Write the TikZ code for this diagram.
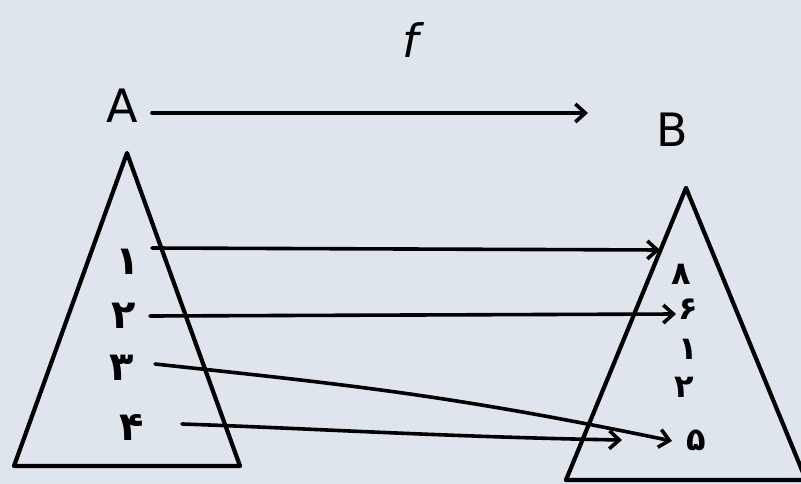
\documentclass[tikz,border=0pt]{standalone}
\usepackage{fontspec}
\setmainfont{DejaVu Sans}
\newfontfamily\arabicfont[Script=Arabic]{DejaVu Sans}
\usetikzlibrary{arrows.meta}
\definecolor{bg}{RGB}{223,229,236}
\tikzset{
  ink/.style={line width=4.2pt, line cap=round, line join=round, black},
  arr/.style={ink, line width=3.6pt, -{Straight Barb[length=10pt,width=18pt,line width=3.6pt]}},
  dig/.style={font=\arabicfont\bfseries\fontsize{40}{40}\selectfont, inner sep=0pt},
  rdig/.style={font=\arabicfont\bfseries\fontsize{32}{32}\selectfont, inner sep=0pt},
  big/.style={font=\fontsize{46}{46}\selectfont, inner sep=0pt}
}
\begin{document}
\begin{tikzpicture}[x=1pt,y=-1pt]
\fill[bg] (0,0) rectangle (801,484);
\useasboundingbox (0,0) rectangle (801,484);
% triangles
\draw[ink] (127,153) -- (240,466) -- (14,466) -- cycle;
\draw[ink] (686,188) -- (806,480) -- (566,480);
\draw[ink] (686,188) -- (566,480);
% labels
\node[big, font=\itshape\fontsize{46}{46}\selectfont] (f) at (411,40) {f};
\node[big] (A) at (122,106) {A};
\node[big] (B) at (672,130) {B};
\node[dig] (l1) at (128,262) {۱};
\node[dig] (l2) at (124,316) {۲};
\node[dig] (l3) at (122,368) {۳};
\node[dig] (l4) at (132,427) {۴};
\node[rdig] (r1) at (681,274) {۸};
\node[rdig] (r2) at (688,309) {۶};
\node[rdig] (r3) at (688,349) {۱};
\node[rdig] (r4) at (684,387) {۲};
\node[rdig] (r5) at (696,440) {۵};
% coordinates for arrow ends
\coordinate (s0) at (152,113);
\coordinate (e0) at (588,113);
\coordinate (s1) at (152,248);
\coordinate (e1) at (660,250);
\coordinate (s2) at (150,316);
\coordinate (e2) at (676,314);
\coordinate (s3) at (155,364);
\coordinate (e3) at (672,441);
\coordinate (s4) at (182,424);
\coordinate (e4) at (622,440);
% arrows
\draw[arr] (s0) -- (e0);
\draw[arr] (s1) -- (e1);
\draw[arr] (s2) -- (e2);
\draw[arr] (s3) .. controls (350,385) and (450,395) .. (e3);
\draw[arr] (s4) .. controls (300,428) and (450,437) .. (e4);
\end{tikzpicture}
\end{document}
